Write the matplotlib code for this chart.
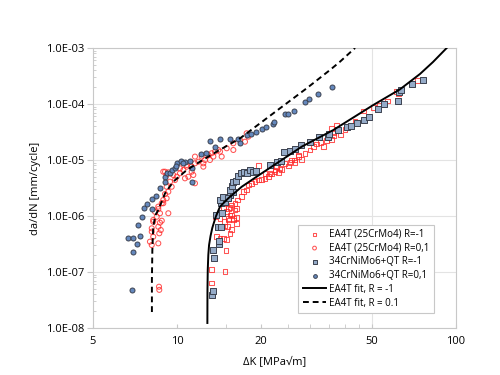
import matplotlib

matplotlib.use("Agg")
import matplotlib.pyplot as plt
from matplotlib.ticker import FixedLocator, FuncFormatter, NullFormatter, LogLocator

plt.rcParams["font.family"] = ["Open Sans", "DejaVu Sans"]

# EA4T (25CrMo4) R=-1  (open red squares)
ea4t_rm1_dk = [13.31, 13.31, 14.86, 14.99, 13.88, 14.26, 14.65, 15.07, 15.49, 15.70, 15.20,
               14.77, 14.26, 15.27, 15.92, 16.37, 15.49, 16.14, 15.27, 15.70, 13.68, 14.65,
               15.07, 15.49, 15.70, 16.14, 16.50, 16.37, 17.06, 17.29, 17.77, 18.01, 18.53,
               19.04, 19.57, 20.12, 20.67, 21.24, 21.85, 22.45, 23.08, 22.77, 23.73, 24.39,
               25.06, 25.77, 26.49, 27.21, 27.99, 15.92, 16.37, 15.27, 14.86, 19.57, 20.67,
               21.55, 22.45, 23.40, 25.41, 26.33, 27.21, 28.76, 29.98, 30.80, 31.68, 32.75,
               33.46, 34.41, 35.85, 36.33, 37.36, 38.62, 40.02, 41.71, 43.47, 46.54, 50.54,
               53.10, 56.90, 61.30, 62.14, 72.90, 35.85, 36.33]
ea4t_rm1_rate = [1.12e-7, 6.4e-8, 1.01e-7, 2.40e-7, 4.27e-7, 4.0e-7, 4.0e-7, 3.84e-7, 4.91e-7,
                 5.79e-7, 6.44e-7, 7.9e-7, 9.1e-7, 9.1e-7, 8.5e-7, 9.5e-7, 1.04e-6, 1.28e-6,
                 1.37e-6, 1.57e-6, 9.7e-7, 1.37e-6, 1.19e-6, 1.43e-6, 1.04e-6, 1.69e-6, 1.93e-6,
                 1.37e-6, 2.21e-6, 2.72e-6, 2.91e-6, 3.58e-6, 3.84e-6, 4.1e-6, 4.39e-6, 4.52e-6,
                 4.71e-6, 5.03e-6, 5.62e-6, 6.18e-6, 5.93e-6, 7.6e-6, 6.82e-6, 8.73e-6, 7.82e-6,
                 1.0e-5, 8.95e-6, 1.15e-5, 1.03e-5, 9.1e-7, 7.4e-7, 8.5e-7, 6.6e-7, 7.91e-6,
                 5.8e-6, 5.8e-6, 6.63e-6, 7.1e-6, 9.1e-6, 1.0e-5, 1.23e-5, 1.32e-5, 1.51e-5,
                 1.73e-5, 1.93e-5, 2.07e-5, 1.73e-5, 2.21e-5, 2.34e-5, 2.68e-5, 4.22e-5, 2.79e-5,
                 3.53e-5, 4.05e-5, 4.97e-5, 7.5e-5, 8.73e-5, 9.6e-5, 1.13e-4, 1.66e-4, 1.51e-4,
                 2.61e-4, 3.68e-5, 3.07e-5]

# EA4T (25CrMo4) R=0,1  (open red circles)
ea4t_r01_dk = [8.12, 8.57, 8.22, 8.46, 8.34, 8.69, 8.57, 8.82, 8.93, 9.18, 9.06, 9.31, 9.18,
               9.57, 9.44, 9.84, 9.70, 9.98, 10.25, 10.25, 10.54, 10.84, 10.98, 11.44, 11.29,
               11.60, 11.60, 11.92, 12.26, 12.60, 12.95, 13.31, 13.68, 14.06, 9.06, 9.31,
               8.93, 9.18, 10.84, 11.29, 11.60, 10.68, 12.43, 13.50, 14.26, 15.07, 15.92,
               16.83, 17.77, 18.01, 17.53, 15.92, 14.46, 13.13, 12.43, 8.22, 8.69, 8.12, 8.75,
               8.64, 8.22, 8.00, 8.12, 8.57, 8.62, 8.64, 8.57, 8.82, 9.31, 8.93]
ea4t_r01_rate = [6.03e-7, 6.44e-7, 8.5e-7, 9.7e-7, 1.19e-6, 1.12e-6, 1.47e-6, 1.69e-6, 1.93e-6,
                 2.07e-6, 2.47e-6, 2.72e-6, 3.33e-6, 3.33e-6, 4.1e-6, 4.39e-6, 5.4e-6, 5.03e-6,
                 5.79e-6, 7.1e-6, 6.63e-6, 7.6e-6, 5.03e-6, 5.4e-6, 7.6e-6, 8.73e-6, 1.15e-5,
                 9.33e-6, 1.15e-5, 1.0e-5, 1.23e-5, 1.32e-5, 1.41e-5, 1.51e-5, 6.18e-6, 6.03e-6,
                 6.18e-6, 5.4e-6, 8.14e-6, 6.18e-6, 3.84e-6, 4.71e-6, 8.73e-6, 1.15e-5, 1.41e-5,
                 1.62e-5, 1.99e-5, 2.28e-5, 3.0e-5, 2.61e-5, 2.12e-5, 1.51e-5, 1.15e-5, 1.0e-5,
                 7.6e-6, 7.9e-7, 7.6e-7, 5.25e-7, 5.62e-7, 4.91e-7, 4.27e-7, 3.48e-7, 3.03e-7,
                 3.25e-7, 5.46e-8, 4.8e-8, 1.33e-6, 8.24e-7, 1.12e-6, 1.69e-6]

# 34CrNiMo6+QT R=-1  (filled squares)
crni_rm1_dk = [13.31, 13.43, 13.61, 13.50, 14.14, 14.14, 13.99, 14.38, 13.80, 14.46, 14.38,
               14.86, 14.26, 15.07, 15.49, 15.92, 14.65, 15.27, 15.49, 15.70, 15.92, 16.23,
               16.50, 16.96, 17.42, 17.77, 18.27, 18.77, 19.20, 21.55, 22.77, 23.59, 24.24,
               25.41, 26.49, 27.83, 29.98, 32.28, 34.69, 35.08, 37.86, 40.57, 42.04, 44.28,
               46.92, 48.89, 52.66, 55.34, 62.14, 62.64, 63.51, 69.74, 75.98]
crni_rm1_rate = [3.88e-8, 4.58e-8, 1.76e-7, 2.47e-7, 3.16e-7, 3.62e-7, 6.44e-7, 6.44e-7,
                 1.03e-6, 1.12e-6, 1.69e-6, 1.80e-6, 1.93e-6, 2.07e-6, 2.37e-6, 2.72e-6,
                 2.21e-6, 2.07e-6, 2.91e-6, 3.43e-6, 4.1e-6, 4.22e-6, 5.18e-6, 5.79e-6, 6.18e-6,
                 5.79e-6, 6.63e-6, 6.18e-6, 6.36e-6, 8.14e-6, 9.33e-6, 9.72e-6, 1.37e-5,
                 1.47e-5, 1.57e-5, 1.85e-5, 2.12e-5, 2.61e-5, 2.61e-5, 2.91e-5, 3.43e-5,
                 3.84e-5, 4.05e-5, 4.52e-5, 5.18e-5, 5.93e-5, 8.04e-5, 9.88e-5, 1.13e-4,
                 1.66e-4, 1.78e-4, 2.28e-4, 2.68e-4]

# 34CrNiMo6+QT R=0,1  (filled circles)
crni_r01_dk = [6.66, 6.97, 6.97, 7.17, 7.22, 7.37, 7.52, 7.62, 7.78, 8.12, 8.12, 8.41, 6.91,
               8.69, 9.06, 9.23, 9.44, 9.57, 9.84, 9.98, 10.31, 10.68, 11.13, 11.29, 12.16,
               12.71, 13.13, 13.68, 14.26, 15.49, 16.48, 16.83, 17.82, 18.42, 19.20, 20.17,
               20.85, 22.09, 22.28, 24.39, 25.06, 26.27, 28.76, 29.73, 32.10, 36.03, 9.06,
               9.90, 10.50, 11.29]
crni_r01_rate = [4.0e-7, 4.0e-7, 2.28e-7, 3.13e-7, 6.9e-7, 4.4e-7, 9.5e-7, 1.41e-6, 1.64e-6,
                 1.33e-6, 2.04e-6, 2.25e-6, 4.8e-8, 3.2e-6, 4.9e-6, 5.8e-6, 5.8e-6, 6.6e-6,
                 7.3e-6, 8.95e-6, 9.7e-6, 9.4e-6, 9.6e-6, 4.0e-6, 1.26e-5, 1.35e-5, 2.16e-5,
                 1.73e-5, 2.37e-5, 2.37e-5, 2.37e-5, 1.99e-5, 2.79e-5, 2.88e-5, 3.2e-5, 3.53e-5,
                 3.88e-5, 4.4e-5, 4.87e-5, 6.55e-5, 6.55e-5, 7.6e-5, 1.07e-4, 1.21e-4, 1.49e-4,
                 1.99e-4, 4.1e-6, 7.9e-6, 8.7e-6, 7.1e-6]

# fit curves
fit_rm1_dk = [12.85, 12.86, 12.89, 12.95, 13.03, 13.19, 13.38, 13.77, 14.26, 15.27, 17.06,
              20.12, 23.73, 27.99, 36.33, 50.54, 63.0, 74.3, 82.7, 92.6]
fit_rm1_rate = [1.23e-8, 4.8e-8, 1.09e-7, 2.01e-7, 3.03e-7, 4.4e-7, 6.1e-7, 9.7e-7, 1.47e-6,
                2.07e-6, 3.33e-6, 5.79e-6, 1.0e-5, 1.73e-5, 3.43e-5, 9.6e-5, 1.83e-4, 3.44e-4,
                5.62e-4, 1.0e-3]
fit_r01_dk = [8.13, 8.13, 8.16, 8.22, 8.37, 8.57, 9.06, 9.70, 10.84, 12.09, 13.88, 16.83,
              22.14, 29.17, 35.35, 38.4, 43.47]
fit_r01_rate = [1.93e-8, 7.2e-8, 2.47e-7, 6.44e-7, 1.04e-6, 1.28e-6, 2.54e-6, 4.1e-6, 6.63e-6,
                9.33e-6, 1.41e-5, 2.44e-5, 6.82e-5, 1.91e-4, 4.05e-4, 5.7e-4, 1.0e-3]

x_ticks = [5, 10, 20, 50, 100]
x_minor = [15, 25, 30, 35, 40, 45]

RED = "#ff2a2a"
GRID = "#e3e3e3"
SPINE = "#c8c8c8"

fig = plt.figure(figsize=(5, 3.75), dpi=100)
ax = fig.add_axes([0.186, 0.1253, 0.726, 0.7467])

ax.scatter(ea4t_rm1_dk, ea4t_rm1_rate, marker="s", s=11, facecolors="none",
           edgecolors=RED, linewidths=0.75, alpha=0.8, zorder=3, label="EA4T (25CrMo4) R=-1")
ax.scatter(ea4t_r01_dk, ea4t_r01_rate, marker="o", s=13, facecolors="none",
           edgecolors=RED, linewidths=0.75, alpha=0.8, zorder=3, label="EA4T (25CrMo4) R=0,1")
ax.scatter(crni_rm1_dk, crni_rm1_rate, marker="s", s=13, facecolors="#95abc8",
           edgecolors="#3c4250", linewidths=0.7, zorder=4, label="34CrNiMo6+QT R=-1")
ax.scatter(crni_r01_dk, crni_r01_rate, marker="o", s=13, facecolors="#6488bd",
           edgecolors="#3c4250", linewidths=0.7, zorder=4, label="34CrNiMo6+QT R=0,1")
ax.plot(fit_rm1_dk, fit_rm1_rate, color="black", lw=1.4, zorder=5, label="EA4T fit, R = -1")
ax.plot(fit_r01_dk, fit_r01_rate, color="black", lw=1.4, ls=(0, (3, 2)), zorder=5,
        label="EA4T fit, R = 0.1")

ax.set_xscale("log")
ax.set_yscale("log")
ax.set_xlim(5, 100)
ax.set_ylim(1e-8, 1e-3)

ax.xaxis.set_major_locator(FixedLocator(x_ticks))
ax.xaxis.set_major_formatter(FuncFormatter(lambda v, p: f"{v:g}"))
ax.xaxis.set_minor_locator(FixedLocator(x_minor))
ax.xaxis.set_minor_formatter(NullFormatter())
ax.yaxis.set_major_locator(LogLocator(base=10, numticks=10))
ax.yaxis.set_major_formatter(FuncFormatter(lambda v, p: f"{v:.1E}"))
ax.yaxis.set_minor_locator(LogLocator(base=10, subs=range(2, 10), numticks=20))
ax.yaxis.set_minor_formatter(NullFormatter())

ax.tick_params(axis="x", which="both", direction="in", length=3, color=SPINE,
               labelsize=8, pad=6)
ax.tick_params(axis="y", which="major", direction="out", length=4, color=SPINE,
               labelsize=8, pad=2)
ax.tick_params(axis="y", which="minor", direction="in", length=2.5, color=SPINE)

ax.grid(True, axis="y", which="major", color=GRID, lw=0.8, zorder=0)
ax.axvline(50, color=GRID, lw=0.8, zorder=0)
for s in ax.spines.values():
    s.set_color(SPINE)
    s.set_linewidth(0.8)

ax.set_xlabel("\u0394K [MPa\u221am]", fontsize=8, labelpad=6)
ax.set_ylabel("da/dN [mm/cycle]", fontsize=8, labelpad=4)

leg = ax.legend(loc="lower right", bbox_to_anchor=(0.939, 0.054), fontsize=7,
                frameon=True, fancybox=False, framealpha=1, edgecolor="#c8c8c8",
                handlelength=2.4, handletextpad=0.3, borderpad=0.45, labelspacing=0.28,
                markerscale=0.75, borderaxespad=0)
leg.get_frame().set_linewidth(0.8)

fig.savefig("out.png", dpi=100)
